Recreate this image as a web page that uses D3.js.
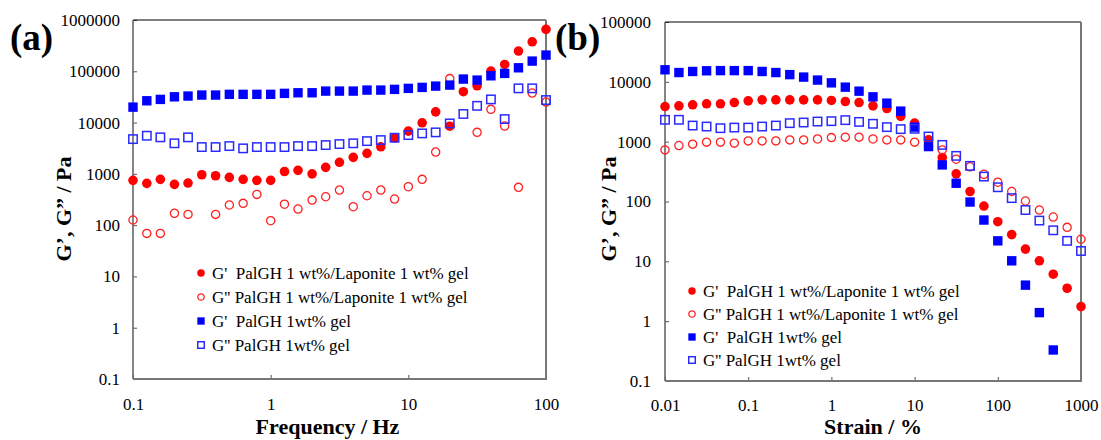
<!DOCTYPE html>
<html>
<head>
<meta charset="utf-8">
<script src="https://cdn.jsdelivr.net/npm/d3@7"></script>
<style>
  body { margin: 0; background: #fff; }
  svg, svg text { font-family: "Liberation Serif", "Times New Roman", "DejaVu Serif", serif !important; }
  .legend text { white-space: pre; }
</style>
</head>
<body>
<div id="chart"></div>
<script>
// ---- data ----
// (a) frequency sweep
var freq = [0.1, 0.126, 0.158, 0.2, 0.251, 0.316, 0.398, 0.501, 0.631, 0.794,
  1, 1.26, 1.58, 2, 2.51, 3.16, 3.98, 5.01, 6.31, 7.94,
  10, 12.6, 15.8, 20, 25.1, 31.6, 39.8, 50.1, 63.1, 79.4, 100];
var gpLapA = [747, 653, 781, 624, 662, 960, 918, 855, 781, 747,
  747, 1110, 1170, 1000, 1340, 1680, 2100, 2510, 3370, 5000,
  6820, 9900, 16200, 8500, 40000, 52100, 101000, 136000, 248000, 376000, 656000];
var gppLapA = [126, 69, 69, 170, 162, null, 162, 247, 266, 398,
  122, 256, 206, 308, 358, 483, 229, 374, 483, 323,
  561, 782, 2660, 72000, null, 6440, 18100, 8550, 546, 37600, 25100];
var gpPalA = [20000, 26600, 28300, 31800, 32900, 34400, 34400, 35500, 35500, 35500,
  35500, 37100, 38100, 38100, 41100, 41100, 41100, 43000, 43000, 44400,
  46400, 48500, 51400, 53800, 70500, 67300, 81700, 91000, 117000, 158000, 207000];
var gppPalA = [4760, 5540, 5150, 3940, 5150, 3330, 3330, 3480, 3140, 3330,
  3330, 3330, 3480, 3480, 3640, 3810, 3940, 4350, 4560, 5060,
  5700, 6150, 6440, 9640, 14700, 21200, 28300, 11700, 46500, 46500, 27500];

// (b) strain sweep
var strain = [0.01, 0.0147, 0.0215, 0.0316, 0.0464, 0.0681, 0.1, 0.147, 0.215, 0.316,
  0.464, 0.681, 1, 1.47, 2.15, 3.16, 4.64, 6.81, 10, 14.7,
  21.5, 31.6, 46.4, 68.1, 100, 147, 215, 316, 464, 681, 1000];
var gpLapB = [3860, 3970, 4130, 4290, 4290, 4510, 4810, 5000, 5000, 5000,
  5000, 5000, 4880, 4690, 4510, 3970, 3580, 2650, 2040, 1070,
  542, 290, 147, 84, 46, 28, 16, 10.2, 6.1, 3.55, 1.75];
var gppLapB = [729, 861, 908, 981, 981, 944, 1030, 1030, 1030, 1070,
  1070, 1110, 1170, 1190, 1190, 1110, 1070, 1070, 981, 850,
  729, 509, 380, 285, 210, 147, 102, 72, 55, 37, 23.4];
var gpPalB = [15900, 14300, 14900, 15300, 15400, 15400, 15400, 14900, 14300, 13200,
  12000, 10700, 9620, 8150, 6980, 5610, 4400, 3240, 1750, 828,
  409, 202, 98, 49, 22, 10.2, 4.0, 1.39, 0.33, null, null];
var gppPalB = [2320, 2320, 1860, 1790, 1680, 1720, 1720, 1790, 1860, 2040,
  2090, 2170, 2200, 2290, 2140, 1990, 1750, 1620, 1640, 1220,
  883, 579, 394, 261, 173, 114, 72, 48, 33, 22, 14.9];

var yTicksA = [0.1, 1, 10, 100, 1000, 10000, 100000, 1000000];
var xTicksA = [0.1, 1, 10, 100];
var yTicksB = [0.1, 1, 10, 100, 1000, 10000, 100000];
var xTicksB = [0.01, 0.1, 1, 10, 100, 1000];

var legendLabels = [
  "G'  PalGH 1 wt%/Laponite 1 wt% gel",
  "G'' PalGH 1 wt%/Laponite 1 wt% gel",
  "G'  PalGH 1wt% gel",
  "G'' PalGH 1wt% gel"
];

var FONT = "'Liberation Serif', 'Times New Roman', 'DejaVu Serif', serif";

var svg = d3.select("#chart").append("svg")
  .attr("width", 1101)
  .attr("height", 440)
  .attr("font-family", FONT);

// marker drawing: kind = "fc" filled circle, "oc" open circle, "fs" filled square, "os" open square
function marker(g, kind, big) {
  var s = big ? 1 : 0.78;
  if (kind == "fc") {
    g.append("circle").attr("r", 4.8 * s).attr("fill", "#ff0000");
  } else if (kind == "oc") {
    g.append("circle").attr("r", 4.1 * s).attr("fill", "none")
      .attr("stroke", "#ff2020").attr("stroke-width", 1.3);
  } else if (kind == "fs") {
    var a = 9.4 * s;
    g.append("rect").attr("x", -a / 2).attr("y", -a / 2).attr("width", a).attr("height", a)
      .attr("fill", "#0000ff");
  } else {
    var b = 8.4 * s;
    g.append("rect").attr("x", -b / 2).attr("y", -b / 2).attr("width", b).attr("height", b)
      .attr("fill", "none").attr("stroke", "#2a2aff").attr("stroke-width", 1.5);
  }
}

function styleAxis(g) {
  g.attr("font-family", FONT);
  g.select(".domain").remove();
  g.selectAll(".tick line").attr("stroke", "#555");
  g.selectAll("text").attr("font-size", 17).attr("fill", "#000");
}

function drawPanel(p) {
  var x = d3.scaleLog().domain(p.xDomain).range([p.left, p.right]);
  var y = d3.scaleLog().domain(p.yDomain).range([p.bottom, p.top]);

  // axes, ticks pointing inwards
  svg.append("g")
    .attr("transform", "translate(0," + p.bottom + ")")
    .call(d3.axisBottom(x).tickValues(p.xTicks).tickFormat(String)
      .tickSizeInner(-4).tickSizeOuter(0).tickPadding(p.xPad))
    .call(styleAxis);

  svg.append("g")
    .attr("transform", "translate(" + p.left + ",0)")
    .call(d3.axisLeft(y).tickValues(p.yTicks).tickFormat(String)
      .tickSizeInner(-4).tickSizeOuter(0).tickPadding(p.yPad))
    .call(styleAxis);

  // plot frame
  svg.append("line").attr("x1", p.left).attr("x2", p.right).attr("y1", p.top).attr("y2", p.top)
    .attr("stroke", "#000").attr("stroke-width", 1.2);
  svg.append("line").attr("x1", p.left).attr("x2", p.left).attr("y1", p.top).attr("y2", p.bottom)
    .attr("stroke", "#666").attr("stroke-width", 1.6);
  svg.append("line").attr("x1", p.left).attr("x2", p.right + 1).attr("y1", p.bottom).attr("y2", p.bottom)
    .attr("stroke", "#777").attr("stroke-width", 2);
  svg.append("line").attr("x1", p.right).attr("x2", p.right).attr("y1", p.top).attr("y2", p.bottom)
    .attr("stroke", "#777").attr("stroke-width", 2);

  // data points
  p.series.forEach(function(s) {
    var pts = p.xs.map(function(v, i) { return { x: v, y: s.values[i] }; })
      .filter(function(d) { return d.y != null; });
    svg.append("g").selectAll("g")
      .data(pts)
      .enter().append("g")
      .attr("transform", function(d) { return "translate(" + x(d.x) + "," + y(d.y) + ")"; })
      .each(function() { marker(d3.select(this), s.kind, true); });
  });

  // legend
  var legend = svg.selectAll(".legend" + p.id)
    .data(p.series)
    .enter().append("g")
    .attr("class", "legend")
    .attr("transform", function(d, i) {
      return "translate(" + p.legX + "," + (p.legY + i * p.legStep) + ")";
    });
  legend.each(function(d) { marker(d3.select(this), d.kind, false); });
  legend.append("text")
    .attr("x", 11)
    .attr("dy", "0.35em")
    .attr("font-size", 17)
    .text(function(d, i) { return legendLabels[i]; });

  // panel letter
  svg.append("text")
    .attr("x", p.letterX).attr("y", 50)
    .attr("font-size", 37).attr("font-weight", "bold")
    .text(p.letter);

  // axis titles
  svg.append("text")
    .attr("x", (p.left + p.right) / 2 + p.xTitleShift).attr("y", 434)
    .attr("text-anchor", "middle")
    .attr("font-size", 22).attr("font-weight", "bold")
    .text(p.xTitle);

  svg.append("text")
    .attr("transform", "translate(" + p.yTitleX + ",209) rotate(-90)")
    .attr("text-anchor", "middle")
    .attr("font-size", 22).attr("font-weight", "bold")
    .text("G\u2019, G\u201D / Pa");
}

drawPanel({
  id: "a", letter: "(a)", letterX: 10,
  left: 133, right: 546, top: 20, bottom: 379,
  xDomain: [0.1, 100], yDomain: [0.1, 1000000],
  xTicks: xTicksA, yTicks: yTicksA, xPad: 19, yPad: 13,
  xs: freq,
  series: [
    { kind: "fc", values: gpLapA },
    { kind: "oc", values: gppLapA },
    { kind: "fs", values: gpPalA },
    { kind: "os", values: gppPalA }
  ],
  legX: 201, legY: 273, legStep: 24,
  xTitle: "Frequency / Hz", xTitleShift: -12, yTitleX: 71
});

drawPanel({
  id: "b", letter: "(b)", letterX: 555,
  left: 665, right: 1081, top: 22, bottom: 381,
  xDomain: [0.01, 1000], yDomain: [0.1, 100000],
  xTicks: xTicksB, yTicks: yTicksB, xPad: 18, yPad: 14,
  xs: strain,
  series: [
    { kind: "fc", values: gpLapB },
    { kind: "oc", values: gppLapB },
    { kind: "fs", values: gpPalB },
    { kind: "os", values: gppPalB }
  ],
  legX: 692, legY: 291, legStep: 23,
  xTitle: "Strain / %", xTitleShift: 0, yTitleX: 616
});
</script>
</body>
</html>
